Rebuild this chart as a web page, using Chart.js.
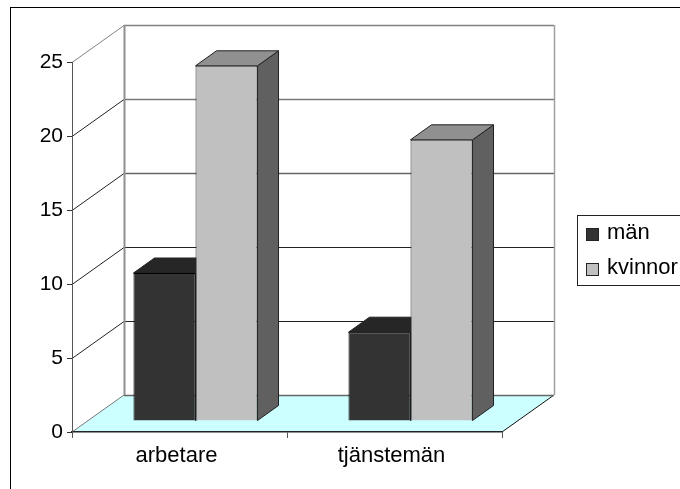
<!DOCTYPE html>
<html>
<head>
<meta charset="utf-8">
<style>
    html, body { margin: 0; padding: 0; background: #fff; overflow: hidden; }
    canvas { display: block; }
</style>
<script src="https://cdn.jsdelivr.net/npm/chart.js@4"></script>
</head>
<body>
<canvas id="jobChart" width="680" height="489"></canvas>
<script>
var categories = ["arbetare", "tjänstemän"];
var manValues = [10, 6];
var kvinnorValues = [24, 19];
var seriesNames = ["män", "kvinnor"];
var tickLabels = [0, 5, 10, 15, 20, 25];

var fontName = "'Liberation Sans', Arial, sans-serif";

// depth of the fake 3d box, and where the bars stand on the floor
var wallDx = 52, wallDy = -37;
var barShiftX = 16, barShiftY = -11;
var barDx = 21, barDy = -15;

var barColors = {
    front: ["#333333", "#c0c0c0"],
    top: ["#262626", "#909090"],
    side: ["#1a1a1a", "#606060"]
};
var gridColors = { 0: "#666666", 5: "#222222", 10: "#222222", 15: "#666666", 20: "#777777", 25: "#808080" };

function poly(ctx, pts, fill, stroke, lw) {
    ctx.beginPath();
    ctx.moveTo(pts[0][0], pts[0][1]);
    for (var i = 1; i < pts.length; i++) {
        ctx.lineTo(pts[i][0], pts[i][1]);
    }
    ctx.closePath();
    if (fill) {
        ctx.fillStyle = fill;
        ctx.fill();
    }
    if (stroke) {
        ctx.strokeStyle = stroke;
        ctx.lineWidth = lw || 1;
        ctx.stroke();
    }
}

function line(ctx, x1, y1, x2, y2, color, lw) {
    ctx.beginPath();
    ctx.moveTo(x1, y1);
    ctx.lineTo(x2, y2);
    ctx.strokeStyle = color;
    ctx.lineWidth = lw || 1;
    ctx.stroke();
}

var boxPlugin = {
    id: "box3d",
    beforeDraw: function (chart) {
        var ctx = chart.ctx;
        var a = chart.chartArea;
        var y = chart.scales.y;
        var bottom = y.getPixelForValue(0);

        // outer chart border, only left and top are inside the picture
        line(ctx, 10.5, 7.5, 10.5, 489, "#000000", 1);
        line(ctx, 10, 7.5, 680, 7.5, "#000000", 1);

        // floor
        poly(ctx, [[a.left, bottom], [a.right, bottom], [a.right + wallDx, bottom + wallDy], [a.left + wallDx, bottom + wallDy]], "#ccffff");
        line(ctx, a.right, bottom, a.right + wallDx, bottom + wallDy, "#111111", 1);
        line(ctx, a.left, bottom, a.left + wallDx, bottom + wallDy, "#777777", 1);

        // gridlines on the back wall and the left wall
        tickLabels.forEach(function (v) {
            var py = Math.round(y.getPixelForValue(v)) + 0.5;
            var c = gridColors[v];
            line(ctx, a.left + wallDx, py + wallDy, a.right + wallDx, py + wallDy, c, (v == 0 || v >= 15) ? 1.5 : 1);
            if (v > 0) {
                line(ctx, a.left, py, a.left + wallDx, py + wallDy, v == 25 ? "#808080" : "#222222", 1);
            }
        });

        // back wall edges
        var top = y.getPixelForValue(25) + wallDy;
        line(ctx, a.left + wallDx + 0.5, top, a.left + wallDx + 0.5, bottom + wallDy, "#909090", 2);
        line(ctx, a.right + wallDx + 0.5, top, a.right + wallDx + 0.5, bottom + wallDy, "#a0a0a0", 1.5);
    },
    beforeDatasetsDraw: function (chart) {
        var ctx = chart.ctx;
        ctx.save();
        ctx.translate(barShiftX, barShiftY);
        // top and side faces go under the fronts that the library draws
        chart.data.datasets.forEach(function (ds, i) {
            chart.getDatasetMeta(i).data.forEach(function (bar) {
                var l = bar.x - bar.width / 2;
                var r = bar.x + bar.width / 2;
                poly(ctx, [[r, bar.y], [r + barDx, bar.y + barDy], [r + barDx, bar.base + barDy], [r, bar.base]], barColors.side[i], "#222222");
                poly(ctx, [[l, bar.y], [l + barDx, bar.y + barDy], [r + barDx, bar.y + barDy], [r, bar.y]], barColors.top[i], "#222222");
            });
        });
    },
    afterDatasetsDraw: function (chart) {
        chart.ctx.restore();
    },
    afterDraw: function (chart) {
        var ctx = chart.ctx;
        // legend box runs off the right edge like the original
        ctx.fillStyle = "#ffffff";
        ctx.fillRect(577.5, 215.5, 110, 70);
        ctx.strokeStyle = "#222222";
        ctx.lineWidth = 1;
        ctx.strokeRect(577.5, 215.5, 110, 70);
        ctx.font = "22px " + fontName;
        ctx.textBaseline = "middle";
        seriesNames.forEach(function (name, i) {
            var my = 235 + i * 35;
            ctx.fillStyle = barColors.front[i];
            ctx.fillRect(586.5, my - 6.5, 12, 12);
            ctx.strokeStyle = "#222222";
            ctx.strokeRect(586.5, my - 6.5, 12, 12);
            ctx.fillStyle = "#000000";
            ctx.fillText(name, 607, my - 2);
        });
    }
};

var jobChart = new Chart("jobChart", {
    type: "bar",
    data: {
        labels: categories,
        datasets: [
            { label: seriesNames[0], data: manValues, backgroundColor: barColors.front[0], borderColor: "#000000", borderWidth: 1, clip: false },
            { label: seriesNames[1], data: kvinnorValues, backgroundColor: barColors.front[1], borderColor: "#333333", borderWidth: 1, clip: false }
        ]
    },
    options: {
        responsive: false,
        animation: false,
        layout: { padding: { top: 62, right: 178, left: 0, bottom: 0 } },
        datasets: { bar: { categoryPercentage: 0.577, barPercentage: 1 } },
        plugins: {
            legend: { display: false },
            tooltip: { enabled: false }
        },
        scales: {
            x: {
                afterFit: function (s) { s.height = 57; },
                border: { color: "#222222", width: 1.5 },
                grid: { drawOnChartArea: false, tickLength: 6, color: "#555555" },
                ticks: { color: "#000000", padding: 5, labelOffset: -3, maxRotation: 0, font: { family: fontName, size: 22 } }
            },
            y: {
                min: 0,
                max: 25,
                afterFit: function (s) { s.width = 72; },
                afterBuildTicks: function (s) {
                    s.ticks = tickLabels.map(function (v) { return { value: v }; });
                },
                border: { color: "#555555", width: 1 },
                grid: { drawOnChartArea: false, tickLength: 5, color: "#333333" },
                ticks: { color: "#000000", padding: 4, font: { family: fontName, size: 21 } }
            }
        }
    },
    plugins: [boxPlugin]
});
</script>
</body>
</html>
